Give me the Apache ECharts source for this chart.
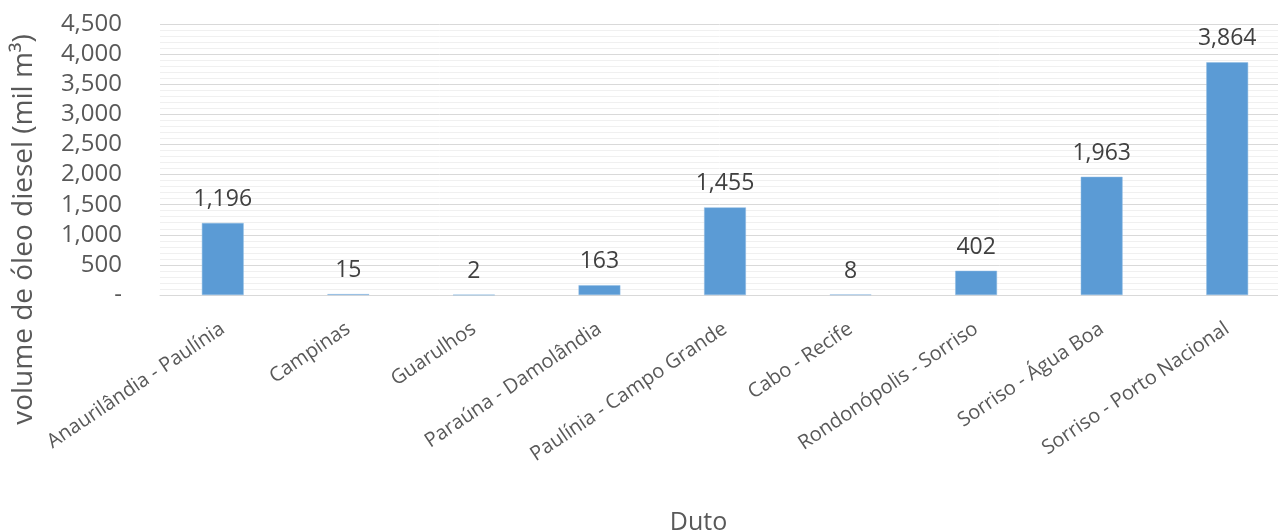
<!DOCTYPE html>
<html>
<head>
<meta charset="utf-8">
<script src="https://cdn.jsdelivr.net/npm/echarts@6/dist/echarts.min.js"></script>
<style>
  html, body { margin: 0; padding: 0; background: #fff; }
  #chart { width: 1278px; height: 531px; }
</style>
</head>
<body>
<div id="chart"></div>
<script>
// dados
var dutos = [
  'Anaurilândia - Paulínia',
  'Campinas',
  'Guarulhos',
  'Paraúna - Damolândia',
  'Paulínia - Campo Grande',
  'Cabo - Recife',
  'Rondonópolis - Sorriso',
  'Sorriso - Água Boa',
  'Sorriso - Porto Nacional'
];
var volumes = [1196, 15, 2, 163, 1455, 8, 402, 1963, 3864];
var yTicks = [0, 500, 1000, 1500, 2000, 2500, 3000, 3500, 4000, 4500];

var FONT = '"Open Sans", "Noto Sans", sans-serif';

function fmt(v) {
  if (v === 0) return '-';
  return v.toLocaleString('en-US');
}

var chart = echarts.init(document.getElementById('chart'));
var option = {
  animation: false,
  textStyle: { fontFamily: FONT },
  // a área de plotagem ultrapassa a borda direita, como no original
  grid: { left: 160, top: 24, width: 1130, height: 271, outerBoundsMode: 'none' },
  xAxis: {
    type: 'category',
    data: dutos,
    name: 'Duto',
    nameLocation: 'middle',
    nameGap: 215,
    nameTextStyle: { fontSize: 25, color: '#595959', fontFamily: FONT, padding: [0, 53, 0, 0] },
    axisLine: { lineStyle: { color: '#d9d9d9', width: 1 } },
    axisTick: { show: false },
    axisLabel: {
      interval: 0,
      rotate: 34,
      margin: 32,
      fontSize: 20,
      color: '#595959'
    }
  },
  yAxis: {
    type: 'value',
    min: yTicks[0],
    max: yTicks[yTicks.length - 1],
    interval: yTicks[1] - yTicks[0],
    name: 'volume de óleo diesel (mil m³)',
    nameLocation: 'middle',
    nameRotate: 90,
    nameGap: 122,
    nameTextStyle: { fontSize: 28, color: '#595959', fontFamily: FONT, padding: [0, 140, 0, 0] },
    axisLine: { show: false },
    axisTick: { show: false },
    axisLabel: { fontSize: 24, color: '#595959', margin: 38, formatter: fmt },
    splitLine: { lineStyle: { color: '#d9d9d9', width: 1 } },
    minorTick: { show: false, splitNumber: 5 },
    minorSplitLine: { show: true, lineStyle: { color: '#f0f0f0', width: 1 } }
  },
  series: [{
    type: 'bar',
    data: volumes,
    barWidth: '33.3%',
    itemStyle: { color: '#5b9bd5', borderColor: '#8fbbe3', borderWidth: 0.5 },
    label: {
      show: true,
      position: 'top',
      distance: 12,
      fontSize: 23,
      color: '#404040',
      fontFamily: FONT,
      formatter: function (p) { return p.value.toLocaleString('en-US'); }
    }
  }]
};
chart.setOption(option);
</script>
</body>
</html>
